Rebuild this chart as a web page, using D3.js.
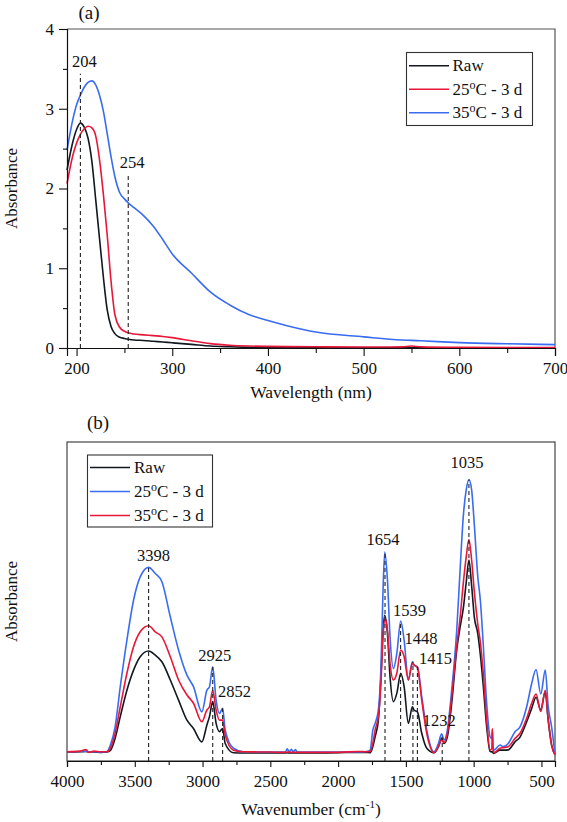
<!DOCTYPE html>
<html><head><meta charset="utf-8">
<script src="https://cdn.jsdelivr.net/npm/d3@7"></script>
<style>
html,body{margin:0;padding:0;background:#fff;}
svg text{font-family:"Liberation Serif","DejaVu Serif","Times New Roman",serif !important;fill:#111;}
</style></head>
<body><svg id="c" width="567" height="822"></svg>
<script>
// ---------- Panel (a): UV-Vis ----------
const uvWavelength = [190,196,200,204,208,212,216,220,224,228,232,236,240,245,250,254,260,270,280,290,300,320,340,360,380,400,420,450,500,540,550,560,600,650,700];
const uvRaw  = [2.23,2.58,2.74,2.82,2.77,2.63,2.34,1.86,1.37,0.89,0.48,0.27,0.18,0.135,0.12,0.11,0.10,0.095,0.085,0.075,0.065,0.045,0.025,0.015,0.008,0.005,0.003,0.002,0.002,0.002,0.002,0.002,0.002,0.002,0.002];
const uv25   = [2.06,2.41,2.57,2.68,2.75,2.78,2.76,2.66,2.36,1.93,1.42,0.84,0.42,0.26,0.21,0.19,0.175,0.165,0.155,0.145,0.13,0.09,0.055,0.035,0.025,0.02,0.017,0.015,0.012,0.014,0.025,0.014,0.008,0.006,0.005];
const uv35   = [2.48,2.86,3.05,3.17,3.27,3.33,3.35,3.30,3.17,2.97,2.69,2.40,2.15,1.95,1.87,1.82,1.76,1.66,1.53,1.36,1.18,0.94,0.70,0.54,0.42,0.345,0.28,0.20,0.14,0.10,0.095,0.09,0.068,0.053,0.042];
const uvTicksX = [200,300,400,500,600,700];
const uvTicksY = [0,1,2,3,4];
const uvMarks = [204,254];
const uvMarkTops = [3.44,2.16];

// ---------- Panel (b): FTIR ----------
const irWavenumber = [4000,3900,3860,3840,3800,3750,3705,3680,3645,3607,3558,3509,3460,3398,3349,3300,3238,3177,3115,3067,3005,2968,2949,2925,2900,2875,2852,2833,2772,2700,2500,2390,2375,2360,2345,2330,2315,2300,2000,1850,1790,1764,1744,1727,1703,1683,1670,1656,1636,1617,1592,1567,1538,1513,1482,1452,1440,1415,1383,1346,1292,1260,1236,1218,1194,1162,1125,1100,1076,1055,1035,1015,995,970,950,930,904,879,866,862,858,850,806,781,745,695,658,609,572,540,505,472,450,425,400];
const irRaw = [0.028,0.029,0.030,0.028,0.028,0.027,0.028,0.033,0.071,0.139,0.222,0.285,0.327,0.345,0.332,0.311,0.254,0.191,0.128,0.102,0.060,0.113,0.139,0.186,0.118,0.092,0.102,0.055,0.026,0.025,0.025,0.025,0.026,0.025,0.025,0.025,0.025,0.025,0.026,0.027,0.027,0.026,0.045,0.076,0.128,0.275,0.400,0.457,0.400,0.264,0.186,0.212,0.275,0.233,0.118,0.170,0.160,0.154,0.087,0.040,0.026,0.045,0.071,0.055,0.076,0.181,0.348,0.420,0.480,0.560,0.630,0.550,0.450,0.400,0.330,0.240,0.107,0.030,0.028,0.030,0.026,0.024,0.034,0.034,0.035,0.060,0.075,0.123,0.165,0.200,0.160,0.217,0.128,0.050,0.020];
const ir25 = [0.029,0.030,0.031,0.029,0.029,0.028,0.030,0.050,0.107,0.233,0.379,0.504,0.577,0.607,0.588,0.562,0.452,0.348,0.269,0.233,0.154,0.222,0.233,0.295,0.191,0.149,0.165,0.097,0.040,0.029,0.028,0.028,0.038,0.028,0.037,0.028,0.036,0.028,0.028,0.028,0.030,0.034,0.097,0.118,0.160,0.306,0.515,0.655,0.567,0.389,0.290,0.337,0.439,0.379,0.254,0.311,0.301,0.295,0.201,0.097,0.029,0.055,0.085,0.066,0.097,0.222,0.410,0.600,0.770,0.850,0.882,0.850,0.740,0.580,0.500,0.370,0.180,0.076,0.070,0.097,0.050,0.034,0.050,0.045,0.055,0.092,0.107,0.170,0.243,0.287,0.210,0.285,0.170,0.107,0.020];
const ir35 = [0.029,0.031,0.036,0.027,0.031,0.029,0.029,0.040,0.087,0.170,0.275,0.358,0.405,0.424,0.405,0.389,0.327,0.254,0.207,0.181,0.123,0.160,0.170,0.222,0.160,0.128,0.128,0.081,0.034,0.029,0.028,0.027,0.028,0.028,0.027,0.028,0.027,0.027,0.027,0.030,0.029,0.030,0.055,0.097,0.139,0.254,0.379,0.447,0.410,0.306,0.254,0.275,0.348,0.327,0.254,0.306,0.301,0.293,0.191,0.087,0.026,0.045,0.066,0.058,0.087,0.201,0.360,0.450,0.560,0.640,0.694,0.630,0.530,0.430,0.370,0.280,0.128,0.034,0.040,0.102,0.040,0.026,0.040,0.042,0.045,0.071,0.087,0.134,0.181,0.210,0.155,0.222,0.128,0.050,0.020];
const irTicksX = [4000,3500,3000,2500,2000,1500,1000,500];
const irMarks = [3398,2925,2852,1654,1539,1448,1415,1232,1035];
const irMarkTops = [0.607,0.295,0.165,0.655,0.439,0.311,0.295,0.076,0.882];

// ---------- styles ----------
const FONT = "'Liberation Serif','DejaVu Serif','Times New Roman',serif";
const C_BLACK = "#111820", C_RED = "#e8173a", C_BLUE = "#3a6cf2";
const svg = d3.select("#c");

// ===== Panel (a) =====
const A = {l:67, r:555, t:29, b:348};
const xa = d3.scaleLinear().domain([190,700]).range([A.l, A.r]);
const ya = d3.scaleLinear().domain([0,4]).range([A.b, A.t]);

const ga = svg.append("g").attr("font-family",FONT);
ga.append("path").attr("d",`M${A.l},${A.t}H${A.r}V${A.b}`).attr("fill","none").attr("stroke","#555").attr("stroke-width",1.2);

const uvSeries = [
  {name:"Raw", vals:uvRaw, color:C_BLACK},
  {name:"25", vals:uv25, color:C_RED},
  {name:"35", vals:uv35, color:C_BLUE}
];
const lineA = d3.line().curve(d3.curveMonotoneX);
uvSeries.forEach(s=>{
  ga.append("path")
    .attr("d", lineA(uvWavelength.map((w,i)=>[xa(w), ya(s.vals[i])])))
    .attr("fill","none").attr("stroke",s.color).attr("stroke-width",1.6);
});
const uvLabelOff = [[4,-7],[4,-8]];
uvMarks.forEach((m,i)=>{
  ga.append("line").attr("x1",xa(m)).attr("x2",xa(m)).attr("y1",ya(0)).attr("y2",ya(uvMarkTops[i]))
    .attr("stroke","#222").attr("stroke-width",1.1).attr("stroke-dasharray","4,3");
  ga.append("text").attr("x",xa(m)+uvLabelOff[i][0]).attr("y",ya(uvMarkTops[i])+uvLabelOff[i][1])
    .attr("text-anchor","middle").attr("font-size",16.5).text(m);
});
const axA = ga.append("g").attr("transform",`translate(0,${A.b})`)
  .call(d3.axisBottom(xa).tickValues(uvTicksX).tickSize(8).tickPadding(6).tickFormat(d3.format("d")));
const axAm = ga.append("g").attr("transform",`translate(0,${A.b})`)
  .call(d3.axisBottom(xa).tickValues(d3.range(250,700,100)).tickSize(5).tickFormat(""));
const ayA = ga.append("g").attr("transform",`translate(${A.l},0)`)
  .call(d3.axisLeft(ya).tickValues(uvTicksY).tickSize(8).tickPadding(5).tickFormat(d3.format("d")));
const ayAm = ga.append("g").attr("transform",`translate(${A.l},0)`)
  .call(d3.axisLeft(ya).tickValues([0.5,1.5,2.5,3.5]).tickSize(4).tickFormat(""));
[axA,axAm,ayA,ayAm].forEach(g=>{
  g.attr("font-family",FONT).attr("font-size",17);
  g.select(".domain").attr("stroke","#111").attr("stroke-width",1.2);
  g.selectAll(".tick line").attr("stroke","#111").attr("stroke-width",1.1);
  g.selectAll("text").attr("font-size",17).attr("fill","#111");
});
axAm.select(".domain").remove(); ayAm.select(".domain").remove();
ga.append("text").attr("x",311).attr("y",398).attr("text-anchor","middle").attr("font-size",17.5).text("Wavelength (nm)");
ga.append("text").attr("transform",`translate(17,${(A.t+A.b)/2}) rotate(-90)`).attr("text-anchor","middle").attr("font-size",17).text("Absorbance");
ga.append("text").attr("x",89).attr("y",19).attr("text-anchor","middle").attr("font-size",19).text("(a)");

const legA = ga.append("g");
legA.append("rect").attr("x",406.5).attr("y",52.5).attr("width",126).attr("height",73).attr("fill","#fff").attr("stroke","#333").attr("stroke-width",1.1);
const legTexts = {Raw:["Raw"], "25":["25","o","C - 3 d"], "35":["35","o","C - 3 d"]};
function legendText(sel, key){
  const p = legTexts[key];
  if(p.length===1){ sel.text(p[0]); return; }
  sel.append("tspan").text(p[0]);
  sel.append("tspan").attr("dy",-6).attr("font-size",12).text(p[1]);
  sel.append("tspan").attr("dy",6).text(p[2]);
}
uvSeries.forEach((s,i)=>{
  const cy = 65.7 + i*23.5;
  legA.append("line").attr("x1",409).attr("x2",449).attr("y1",cy).attr("y2",cy).attr("stroke",s.color).attr("stroke-width",1.6);
  legendText(legA.append("text").attr("x",452.5).attr("y",cy+5.5).attr("font-size",17), s.name);
});

// ===== Panel (b) =====
const B = {l:67, r:555, t:442, b:761};
const xb = d3.scaleLinear().domain([4000,400]).range([B.l, B.r]);
const yb = d3.scaleLinear().domain([0,1]).range([B.b, B.t]);
const gb = svg.append("g").attr("font-family",FONT);
gb.append("rect").attr("x",B.l).attr("y",B.t).attr("width",B.r-B.l).attr("height",B.b-B.t)
  .attr("fill","none").attr("stroke","#444").attr("stroke-width",1.2);

const irSeries = [
  {name:"Raw", vals:irRaw, color:C_BLACK},
  {name:"25", vals:ir25, color:C_BLUE},
  {name:"35", vals:ir35, color:C_RED}
];
const lineB = d3.line().curve(d3.curveMonotoneX);
irSeries.forEach(s=>{
  gb.append("path")
    .attr("d", lineB(irWavenumber.map((w,i)=>[xb(w), yb(s.vals[i])])))
    .attr("fill","none").attr("stroke",s.color).attr("stroke-width",1.6);
});
const irLabelOff = [[5,-6],[2,-6],[12,-11],[-2,-7],[9,-5],[8,-18],[18,-3],[-3,-11],[-2,-12]];
irMarks.forEach((m,i)=>{
  gb.append("line").attr("x1",xb(m)).attr("x2",xb(m)).attr("y1",yb(0)).attr("y2",yb(irMarkTops[i]))
    .attr("stroke","#222").attr("stroke-width",1.1).attr("stroke-dasharray","4,3");
  gb.append("text").attr("x",xb(m)+irLabelOff[i][0]).attr("y",yb(irMarkTops[i])+irLabelOff[i][1])
    .attr("text-anchor","middle").attr("font-size",16.5).text(m);
});
const axB = gb.append("g").attr("transform",`translate(0,${B.b})`)
  .call(d3.axisBottom(xb).tickValues(irTicksX).tickSize(6).tickPadding(8).tickFormat(d3.format("d")));
const axBm = gb.append("g").attr("transform",`translate(0,${B.b})`)
  .call(d3.axisBottom(xb).tickValues(d3.range(3750,600,-500)).tickSize(4).tickFormat(""));
[axB,axBm].forEach(g=>{
  g.attr("font-family",FONT).attr("font-size",17);
  g.select(".domain").attr("stroke","#111").attr("stroke-width",1.2);
  g.selectAll(".tick line").attr("stroke","#111").attr("stroke-width",1.1);
  g.selectAll("text").attr("font-size",17).attr("fill","#111");
});
axBm.select(".domain").remove();
const xt = gb.append("text").attr("x",311).attr("y",815).attr("text-anchor","middle").attr("font-size",17.5);
xt.append("tspan").text("Wavenumber (cm");
xt.append("tspan").attr("dy",-7).attr("font-size",11).text("-1");
xt.append("tspan").attr("dy",7).text(")");
gb.append("text").attr("transform",`translate(17,${(B.t+B.b)/2}) rotate(-90)`).attr("text-anchor","middle").attr("font-size",17).text("Absorbance");
gb.append("text").attr("x",98).attr("y",429).attr("text-anchor","middle").attr("font-size",19).text("(b)");

const legB = gb.append("g");
legB.append("rect").attr("x",87.5).attr("y",455).attr("width",125).attr("height",72).attr("fill","#fff").attr("stroke","#333").attr("stroke-width",1.1);
irSeries.forEach((s,i)=>{
  const cy = 467.5 + i*24;
  legB.append("line").attr("x1",90).attr("x2",130).attr("y1",cy).attr("y2",cy).attr("stroke",s.color).attr("stroke-width",1.6);
  legendText(legB.append("text").attr("x",134).attr("y",cy+5.5).attr("font-size",17), s.name);
});
</script>
</body></html>
